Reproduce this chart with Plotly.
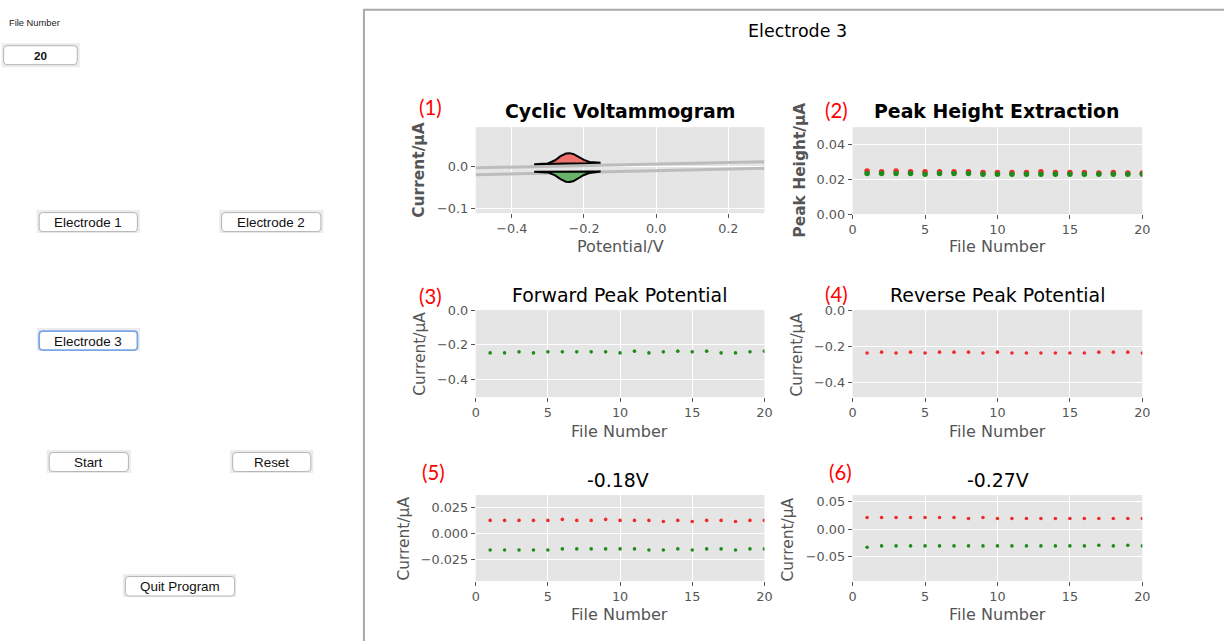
import plotly.graph_objects as go

# ---------------- data ----------------
files = [1, 2, 3, 4, 5, 6, 7, 8, 9, 10, 11, 12, 13, 14, 15, 16, 17, 18, 19, 20]

# (1) cyclic voltammogram
cv_upper_v = [-0.5, -0.3, -0.1, 0.1, 0.3]
cv_upper_i = [-0.002, 0.0017, 0.0054, 0.0090, 0.0126]
cv_lower_v = [-0.5, -0.3, -0.1, 0.1, 0.3]
cv_lower_i = [-0.0185, -0.0146, -0.0108, -0.0069, -0.0030]

red_peak_v = [-0.338, -0.30, -0.28, -0.265, -0.25, -0.24, -0.23, -0.215, -0.20, -0.185, -0.17, -0.154]
red_peak_i = [0.0064, 0.0085, 0.016, 0.026, 0.0322, 0.033, 0.031, 0.024, 0.017, 0.012, 0.0105, 0.0100]
red_base_v = [-0.154, -0.338]
red_base_i = [0.0100, 0.0064]

green_peak_v = [-0.338, -0.30, -0.28, -0.265, -0.25, -0.24, -0.23, -0.215, -0.20, -0.185, -0.17, -0.154]
green_peak_i = [-0.0115, -0.013, -0.020, -0.029, -0.035, -0.036, -0.034, -0.027, -0.019, -0.0145, -0.012, -0.011]
green_base_v = [-0.154, -0.338]
green_base_i = [-0.011, -0.0115]

# (2) peak height extraction
peak_height_red = [0.0248, 0.0244, 0.0248, 0.0244, 0.0244, 0.0244, 0.0244, 0.0244, 0.0240, 0.0240,
                   0.0240, 0.0240, 0.0244, 0.0240, 0.0240, 0.0240, 0.0237, 0.0240, 0.0237, 0.0237]
peak_height_green = [0.0233, 0.0233, 0.0233, 0.0233, 0.0229, 0.0233, 0.0233, 0.0233, 0.0229, 0.0229,
                     0.0229, 0.0229, 0.0229, 0.0229, 0.0229, 0.0229, 0.0229, 0.0229, 0.0229, 0.0229]

# (3) forward peak potential
forward_peak = [-0.246, -0.246, -0.240, -0.246, -0.240, -0.240, -0.240, -0.240, -0.240, -0.246,
                -0.236, -0.246, -0.240, -0.236, -0.240, -0.236, -0.246, -0.246, -0.240, -0.236]

# (4) reverse peak potential
reverse_peak = [-0.237, -0.232, -0.237, -0.232, -0.237, -0.232, -0.232, -0.232, -0.237, -0.232,
                -0.237, -0.237, -0.237, -0.237, -0.237, -0.237, -0.232, -0.232, -0.232, -0.237]

# (5) current at -0.18 V
cur018_red = [0.0125, 0.0125, 0.0125, 0.0125, 0.0125, 0.0135, 0.0125, 0.0125, 0.0135, 0.0125,
              0.0125, 0.0125, 0.0115, 0.0125, 0.0115, 0.0125, 0.0125, 0.0115, 0.0125, 0.0125]
cur018_green = [-0.016, -0.016, -0.016, -0.016, -0.016, -0.015, -0.015, -0.015, -0.015, -0.015,
                -0.015, -0.016, -0.016, -0.015, -0.016, -0.015, -0.015, -0.016, -0.015, -0.015]

# (6) current at -0.27 V
cur027_red = [0.0212, 0.0212, 0.0212, 0.0212, 0.0212, 0.0212, 0.0212, 0.0194, 0.0212, 0.0194,
              0.0194, 0.0194, 0.0194, 0.0194, 0.0194, 0.0194, 0.0194, 0.0194, 0.0194, 0.0194]
cur027_green = [-0.0327, -0.0303, -0.0303, -0.0303, -0.0303, -0.0303, -0.0303, -0.0303, -0.0303, -0.0303,
                -0.0303, -0.0303, -0.0303, -0.0303, -0.0303, -0.0303, -0.0291, -0.0303, -0.0291, -0.0303]

# ---------------- figure ----------------
# layout is given in target-picture pixels; the capture keeps an 8px page
# margin and a slightly larger viewport, so positions are mapped accordingly
OFF = 8
DX = 2.5
SX, SY = 1240 / 1225, 656 / 641
W, H = 1232, 648
FS = 1.016  # font scale
def X(px):
    return ((px + DX) * SX - OFF) / W
def Y(py):
    return 1 - (py * SY - OFF) / H

RED = "#f02a2a"
GREEN = "#1c8c1c"
FONT = "DejaVu Sans"
TICKC = "#555555"

fig = go.Figure()

# CV plot traces
for v, i in ((cv_upper_v, cv_upper_i), (cv_lower_v, cv_lower_i)):
    fig.add_trace(go.Scatter(x=v, y=i, mode="lines", line=dict(color="rgba(185,185,185,0.95)", width=3),
                             xaxis="x", yaxis="y", hoverinfo="skip"))
fig.add_trace(go.Scatter(x=red_peak_v + red_base_v, y=red_peak_i + red_base_i, mode="lines",
                         fill="toself", fillcolor="rgba(240,100,95,0.9)",
                         line=dict(color="black", width=2), xaxis="x", yaxis="y"))
fig.add_trace(go.Scatter(x=green_peak_v + green_base_v, y=green_peak_i + green_base_i, mode="lines",
                         fill="toself", fillcolor="rgba(100,175,100,0.95)",
                         line=dict(color="black", width=2), xaxis="x", yaxis="y"))

# peak height
fig.add_trace(go.Scatter(x=files, y=peak_height_red, mode="markers",
                         marker=dict(color=RED, size=5.5), xaxis="x2", yaxis="y2"))
fig.add_trace(go.Scatter(x=files, y=peak_height_green, mode="markers",
                         marker=dict(color=GREEN, size=5.5), xaxis="x2", yaxis="y2"))
# forward / reverse
fig.add_trace(go.Scatter(x=files, y=forward_peak, mode="markers",
                         marker=dict(color=GREEN, size=3.6), xaxis="x3", yaxis="y3"))
fig.add_trace(go.Scatter(x=files, y=reverse_peak, mode="markers",
                         marker=dict(color=RED, size=3.6), xaxis="x4", yaxis="y4"))
# -0.18 V
fig.add_trace(go.Scatter(x=files, y=cur018_red, mode="markers",
                         marker=dict(color=RED, size=3.6), xaxis="x5", yaxis="y5"))
fig.add_trace(go.Scatter(x=files, y=cur018_green, mode="markers",
                         marker=dict(color=GREEN, size=3.6), xaxis="x5", yaxis="y5"))
# -0.27 V
fig.add_trace(go.Scatter(x=files, y=cur027_red, mode="markers",
                         marker=dict(color=RED, size=3.6), xaxis="x6", yaxis="y6"))
fig.add_trace(go.Scatter(x=files, y=cur027_green, mode="markers",
                         marker=dict(color=GREEN, size=3.6), xaxis="x6", yaxis="y6"))

# axes geometry (target pixels)
boxes = {
    1: (476, 764, 127, 213),
    2: (852, 1141, 127, 214),
    3: (476, 764, 310, 397),
    4: (852, 1141, 310, 397),
    5: (476, 764, 495, 581),
    6: (852, 1141, 495, 581),
}
yspec = {
    1: ([-0.11, 0.095], [-0.1, 0.0], ".1f"),
    2: ([0, 0.05], [0, 0.02, 0.04], ".2f"),
    3: ([-0.5, 0], [-0.4, -0.2, 0.0], ".1f"),
    4: ([-0.48, 0], [-0.4, -0.2, 0.0], ".1f"),
    5: ([-0.046, 0.037], [-0.025, 0.0, 0.025], ".3f"),
    6: ([-0.094, 0.062], [-0.05, 0.0, 0.05], ".2f"),
}
common = dict(showgrid=True, gridcolor="white", gridwidth=1, zeroline=False, showline=False,
              ticks="outside", ticklen=4, tickwidth=1, tickcolor=TICKC,
              tickfont=dict(family=FONT, size=12.6 * FS, color=TICKC), fixedrange=True)
lay = {}
for k, (x0, x1, y0, y1) in boxes.items():
    sx = "" if k == 1 else str(k)
    if k == 1:
        xa = dict(range=[-0.5, 0.3], tickvals=[-0.4, -0.2, 0.0, 0.2], tickformat=".1f")
    else:
        xa = dict(range=[0, 20], tickvals=[0, 5, 10, 15, 20])
    xa.update(common)
    xa.update(domain=[X(x0), X(x1)], anchor="y" + sx)
    yr, yt, yf = yspec[k]
    ya = dict(range=yr, tickvals=yt, tickformat=yf)
    ya.update(common)
    ya.update(domain=[Y(y1), Y(y0)], anchor="x" + sx)
    lay["xaxis" + sx] = xa
    lay["yaxis" + sx] = ya
fig.update_layout(**lay)

ann = []
def text(x, y, s, size, color="black", bold=False, family=FONT, angle=0, xanchor="center"):
    if bold:
        s = "<b>" + s + "</b>"
    ann.append(dict(x=X(x), y=Y(y), xref="paper", yref="paper", text=s, showarrow=False,
                    font=dict(family=family, size=size * FS, color=color), textangle=angle,
                    xanchor=xanchor, yanchor="middle"))

# main title
text(797, 31, "Electrode 3", 17.2)
# subplot titles
TS = 18.6
text(620, 111, "Cyclic Voltammogram", TS, bold=True)
text(996, 111, "Peak Height Extraction", TS, bold=True)
text(619, 295, "Forward Peak Potential", TS)
text(997, 295, "Reverse Peak Potential", TS)
text(618, 480, "-0.18V", TS)
text(997, 480, "-0.27V", TS)
# axis labels
XL, YL = 15.8, 15.2
text(620, 246, "Potential/V", XL, TICKC)
text(420, 170, "Current/μA", YL, TICKC, bold=True, angle=-90)
text(997, 246, "File Number", XL, TICKC)
text(800, 170, "Peak Height/μA", YL, TICKC, bold=True, angle=-90)
text(619, 431, "File Number", XL, TICKC)
text(420, 354, "Current/μA", YL, TICKC, angle=-90)
text(997, 431, "File Number", XL, TICKC)
text(797, 354, "Current/μA", YL, TICKC, angle=-90)
text(619, 614, "File Number", XL, TICKC)
text(404, 539, "Current/μA", YL, TICKC, angle=-90)
text(997, 614, "File Number", XL, TICKC)
text(788, 539, "Current/μA", YL, TICKC, angle=-90)
# red panel numbers
for (x, y, s) in [(431, 107, "(1)"), (836, 110, "(2)"), (431, 296, "(3)"),
                  (836, 294, "(4)"), (434, 472, "(5)"), (840, 472, "(6)")]:
    text(x, y, s, 20, "#ff0000", family="Lato")

# left GUI panel
GUI = "Liberation Sans"
text(8, 22.5, "File Number", 9.2, "#222222", family=GUI, xanchor="left")
text(41.5, 55.5, "20", 11.5, "#111111", family=GUI, bold=True)

shapes = []
def rrect(x0, y0, x1, y1, r, fill, line, lw):
    p = (f"M {X(x0+r)},{Y(y0)} L {X(x1-r)},{Y(y0)} Q {X(x1)},{Y(y0)} {X(x1)},{Y(y0+r)} "
         f"L {X(x1)},{Y(y1-r)} Q {X(x1)},{Y(y1)} {X(x1-r)},{Y(y1)} L {X(x0+r)},{Y(y1)} "
         f"Q {X(x0)},{Y(y1)} {X(x0)},{Y(y1-r)} L {X(x0)},{Y(y0+r)} Q {X(x0)},{Y(y0)} {X(x0+r)},{Y(y0)} Z")
    shapes.append(dict(type="path", path=p, xref="paper", yref="paper", fillcolor=fill,
                       line=dict(color=line, width=lw), layer="above"))

def halo(x0, y0, x1, y1):
    shapes.append(dict(type="rect", x0=X(x0), x1=X(x1), y0=Y(y1), y1=Y(y0), xref="paper", yref="paper",
                       fillcolor="#ececec", line=dict(width=0), layer="above"))

buttons = [
    ((3, 43, 81, 67), (5, 45.5, 78.5, 64.5), None, False),
    ((38, 210, 141, 233), (40.5, 212.5, 138.5, 231.5), "Electrode 1", False),
    ((220, 210, 324, 233), (222.5, 212.5, 321.5, 231.5), "Electrode 2", False),
    ((38, 328, 141, 351), (40.5, 331, 138.5, 350), "Electrode 3", True),
    ((48, 450, 132, 473), (50.5, 452.5, 129.5, 471.5), "Start", False),
    ((231, 450, 314, 473), (233.5, 452.5, 311.5, 471.5), "Reset", False),
    ((124, 574, 237, 597), (126.5, 576.5, 235.5, 596), "Quit Program", False),
]
for hb, ib, label, focus in buttons:
    halo(*hb)
    if focus:
        rrect(*ib, 3.5, "white", "#7aa6e6", 1.8)
    else:
        rrect(*ib, 3.5, "white", "#b4b4b4", 1)
    if label:
        text((ib[0] + ib[2]) / 2, (ib[1] + ib[3]) / 2 + 0.5, label, 13.2, "#111111", family=GUI)

# frame of the plotting canvas
shapes.append(dict(type="line", x0=X(364.5), x1=X(364.5), y0=Y(9), y1=0, xref="paper", yref="paper",
                   line=dict(color="#a9a9a9", width=2)))
shapes.append(dict(type="line", x0=X(364), x1=1, y0=Y(9.5), y1=Y(9.5), xref="paper", yref="paper",
                   line=dict(color="#a9a9a9", width=2)))

fig.update_layout(width=W, height=H, autosize=False, margin=dict(l=0, r=0, t=0, b=0, pad=0),
                  paper_bgcolor="white", plot_bgcolor="#E5E5E5", showlegend=False,
                  annotations=ann, shapes=shapes)

fig.write_html("out.html")
